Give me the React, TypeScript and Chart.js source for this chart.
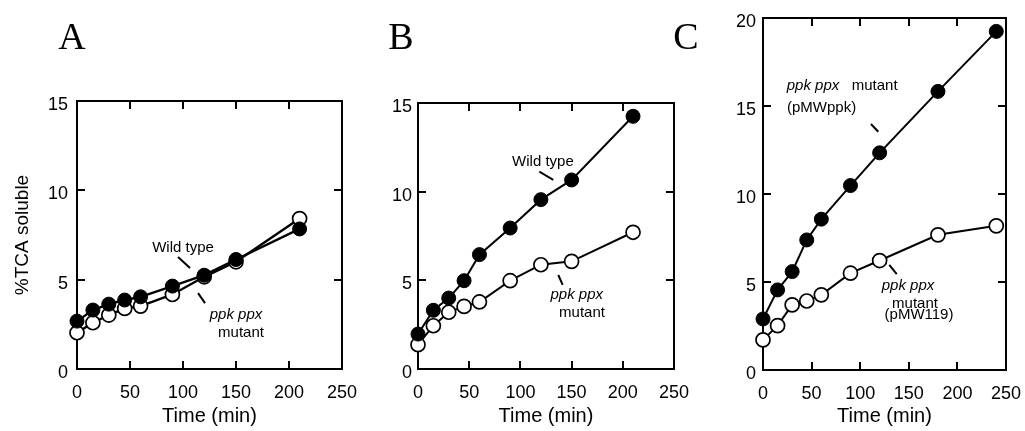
import React, { useEffect, useRef } from "react";
import { Chart, registerables } from "chart.js";

Chart.register(...registerables);

// ---------- data ----------
const timeAB = [0, 15, 30, 45, 60, 90, 120, 150, 210];
const wildTypeA = [2.68, 3.3, 3.63, 3.86, 4.04, 4.64, 5.25, 6.13, 7.84];
const mutantA = [2.03, 2.59, 3.02, 3.39, 3.52, 4.17, 5.16, 6.0, 8.42];

const wildTypeB = [1.97, 3.31, 4.0, 4.98, 6.45, 7.95, 9.55, 10.66, 14.25];
const mutantB = [1.37, 2.44, 3.2, 3.53, 3.78, 4.98, 5.88, 6.07, 7.71];

const timeC = [0, 15, 30, 45, 60, 90, 120, 180, 240];
const pMWppkC = [2.9, 4.55, 5.59, 7.39, 8.57, 10.48, 12.34, 15.83, 19.24];
const pMW119C = [1.71, 2.52, 3.7, 3.92, 4.27, 5.5, 6.22, 7.68, 8.19];

const xTickValues = [0, 50, 100, 150, 200, 250];
const yTickValuesAB = [0, 5, 10, 15];
const yTickValuesC = [0, 5, 10, 15, 20];

const xTitle = "Time (min)";
const yTitle = "%TCA soluble";

const SANS = "'Liberation Sans', Arial, Helvetica, sans-serif";
const SERIF = "'Liberation Serif', 'Times New Roman', serif";

type Ann =
  | { kind: "text"; x: number; y: number; text: string; italic?: boolean; align?: CanvasTextAlign }
  | { kind: "line"; x1: number; y1: number; x2: number; y2: number };

interface PanelCfg {
  canvasLeft: number;
  canvasWidth: number;
  area: { left: number; right: number; top: number; bottom: number };
  letter: { text: string; x: number; y: number };
  time: number[];
  filled: number[];
  open: number[];
  yTicks: number[];
  yMax: number;
  yPad: number;
  showYTitle: boolean;
  lineWidth: number;
  annotations: Ann[];
}

const decorPlugin = {
  id: "decor",
  beforeDatasetsDraw(chart: any) {
    const { ctx, chartArea } = chart;
    const xs = chart.scales.x;
    const ys = chart.scales.y;
    ctx.save();
    ctx.strokeStyle = "#000";
    ctx.lineWidth = 2;
    ctx.strokeRect(chartArea.left, chartArea.top, chartArea.right - chartArea.left, chartArea.bottom - chartArea.top);
    const len = 8;
    ctx.lineWidth = 2;
    ctx.beginPath();
    xs.ticks.forEach((t: any) => {
      if (t.value <= xs.min || t.value >= xs.max) return;
      const px = Math.round(xs.getPixelForValue(t.value));
      ctx.moveTo(px, chartArea.bottom);
      ctx.lineTo(px, chartArea.bottom - len);
      ctx.moveTo(px, chartArea.top);
      ctx.lineTo(px, chartArea.top + len);
    });
    ys.ticks.forEach((t: any) => {
      if (t.value <= ys.min || t.value >= ys.max) return;
      const py = Math.round(ys.getPixelForValue(t.value));
      ctx.moveTo(chartArea.left, py);
      ctx.lineTo(chartArea.left + len, py);
      ctx.moveTo(chartArea.right, py);
      ctx.lineTo(chartArea.right - len, py);
    });
    ctx.stroke();
    ctx.restore();
  },
  afterDraw(chart: any, _args: any, opts: any) {
    const { ctx } = chart;
    const xs = chart.scales.x;
    const ys = chart.scales.y;
    ctx.save();
    ctx.fillStyle = "#000";
    ctx.strokeStyle = "#000";
    (opts.annotations as Ann[]).forEach((a) => {
      if (a.kind === "line") {
        ctx.lineWidth = 2;
        ctx.beginPath();
        ctx.moveTo(xs.getPixelForValue(a.x1), ys.getPixelForValue(a.y1));
        ctx.lineTo(xs.getPixelForValue(a.x2), ys.getPixelForValue(a.y2));
        ctx.stroke();
      } else {
        ctx.font = `${a.italic ? "italic " : ""}15px ${SANS}`;
        ctx.textAlign = a.align || "center";
        ctx.textBaseline = "middle";
        ctx.fillText(a.text, xs.getPixelForValue(a.x), ys.getPixelForValue(a.y));
      }
    });
    const L = opts.letter;
    ctx.font = `38px ${SERIF}`;
    ctx.textAlign = "center";
    ctx.textBaseline = "alphabetic";
    ctx.fillText(L.text, L.x - opts.offsetX, L.y);
    ctx.restore();
  },
};

function buildConfig(p: PanelCfg): any {
  const H = 431;
  return {
    type: "line",
    data: {
      datasets: [
        {
          data: p.time.map((t, i) => ({ x: t, y: p.filled[i] })),
          borderColor: "#000",
          borderWidth: p.lineWidth,
          pointBackgroundColor: "#000",
          pointBorderColor: "#000",
          pointBorderWidth: 1,
          pointRadius: 7,
          tension: 0,
          clip: false,
        },
        {
          data: p.time.map((t, i) => ({ x: t, y: p.open[i] })),
          borderColor: "#000",
          borderWidth: p.lineWidth,
          pointBackgroundColor: "#fff",
          pointBorderColor: "#000",
          pointBorderWidth: 1.7,
          pointRadius: 7,
          tension: 0,
          clip: false,
        },
      ],
    },
    options: {
      responsive: false,
      animation: false,
      events: [],
      layout: {
        padding: {
          left: 0,
          top: p.area.top,
          right: p.canvasLeft + p.canvasWidth - p.area.right,
          bottom: 0,
        },
      },
      plugins: {
        legend: { display: false },
        tooltip: { enabled: false },
        decor: { annotations: p.annotations, letter: p.letter, offsetX: p.canvasLeft },
      },
      scales: {
        x: {
          type: "linear",
          min: 0,
          max: 250,
          grid: { display: false, drawTicks: false },
          border: { display: false },
          ticks: { color: "#000", font: { size: 18, family: SANS }, padding: 13 },
          afterBuildTicks: (s: any) => {
            s.ticks = xTickValues.map((v) => ({ value: v }));
          },
          afterFit: (s: any) => {
            s.height = H - p.area.bottom;
            s.paddingLeft = 0;
            s.paddingRight = 0;
          },
          title: {
            display: true,
            text: xTitle,
            color: "#000",
            font: { size: 20, family: SANS },
            padding: { top: 0, bottom: 3 },
          },
        },
        y: {
          type: "linear",
          min: 0,
          max: p.yMax,
          grid: { display: false, drawTicks: false },
          border: { display: false },
          ticks: { color: "#000", font: { size: 18, family: SANS }, padding: p.yPad, labelOffset: 4 },
          afterBuildTicks: (s: any) => {
            s.ticks = p.yTicks.map((v) => ({ value: v }));
          },
          afterFit: (s: any) => {
            s.width = p.area.left - p.canvasLeft;
            s.paddingTop = 0;
            s.paddingBottom = 0;
          },
          title: {
            display: p.showYTitle,
            text: yTitle,
            color: "#000",
            font: { size: 19, family: SANS },
            padding: { top: 11, bottom: 0 },
          },
        },
      },
    },
    plugins: [decorPlugin],
  };
}

const panels: PanelCfg[] = [
  {
    canvasLeft: 0,
    canvasWidth: 360,
    area: { left: 77, right: 342, top: 101, bottom: 369 },
    letter: { text: "A", x: 72, y: 49 },
    time: timeAB,
    filled: wildTypeA,
    open: mutantA,
    yTicks: yTickValuesAB,
    yMax: 15,
    yPad: 9,
    showYTitle: true,
    lineWidth: 2.4,
    annotations: [
      { kind: "text", x: 100, y: 6.77, text: "Wild type" },
      { kind: "line", x1: 95.3, y1: 6.27, x2: 106.6, y2: 5.65 },
      { kind: "text", x: 150, y: 3.02, text: "ppk ppx", italic: true },
      { kind: "text", x: 154.7, y: 2.01, text: "mutant" },
      { kind: "line", x1: 114.2, y1: 4.25, x2: 120.8, y2: 3.69 },
    ],
  },
  {
    canvasLeft: 345,
    canvasWidth: 350,
    area: { left: 418, right: 674, top: 103, bottom: 369 },
    letter: { text: "B", x: 401, y: 49 },
    time: timeAB,
    filled: wildTypeB,
    open: mutantB,
    yTicks: yTickValuesAB,
    yMax: 15,
    yPad: 6,
    showYTitle: false,
    lineWidth: 2,
    annotations: [
      { kind: "text", x: 122, y: 11.67, text: "Wild type" },
      { kind: "line", x1: 118.5, y1: 11.13, x2: 132.1, y2: 10.66 },
      { kind: "text", x: 155, y: 4.17, text: "ppk ppx", italic: true },
      { kind: "text", x: 160.2, y: 3.14, text: "mutant" },
      { kind: "line", x1: 137, y1: 5.3, x2: 141.3, y2: 4.74 },
    ],
  },
  {
    canvasLeft: 660,
    canvasWidth: 365,
    area: { left: 763, right: 1006, top: 18, bottom: 370 },
    letter: { text: "C", x: 686, y: 49 },
    time: timeC,
    filled: pMWppkC,
    open: pMW119C,
    yTicks: yTickValuesC,
    yMax: 20,
    yPad: 7,
    showYTitle: false,
    lineWidth: 2,
    annotations: [
      { kind: "text", x: 24.4, y: 16.14, text: "ppk ppx", italic: true, align: "left" },
      { kind: "text", x: 91.3, y: 16.14, text: "mutant", align: "left" },
      { kind: "text", x: 24.7, y: 14.89, text: "(pMWppk)", align: "left" },
      { kind: "line", x1: 111.1, y1: 13.98, x2: 118.6, y2: 13.54 },
      { kind: "text", x: 149.2, y: 4.77, text: "ppk ppx", italic: true },
      { kind: "text", x: 156.4, y: 3.75, text: "mutant" },
      { kind: "text", x: 160.5, y: 3.13, text: "(pMW119)" },
      { kind: "line", x1: 129.9, y1: 5.97, x2: 137.6, y2: 5.45 },
    ],
  },
];

function Panel({ cfg }: { cfg: PanelCfg }) {
  const ref = useRef<HTMLCanvasElement>(null);
  useEffect(() => {
    const chart = new Chart(ref.current as HTMLCanvasElement, buildConfig(cfg));
    return () => chart.destroy();
  }, [cfg]);
  return (
    <canvas
      ref={ref}
      width={cfg.canvasWidth}
      height={431}
      style={{ position: "absolute", left: cfg.canvasLeft, top: 0, width: cfg.canvasWidth, height: 431, display: "block" }}
    />
  );
}

export default function App() {
  return (
    <div style={{ position: "fixed", left: 0, top: 0, width: 1025, height: 431, background: "#fff", overflow: "hidden" }}>
      {panels.map((p, i) => (
        <Panel key={i} cfg={p} />
      ))}
    </div>
  );
}
